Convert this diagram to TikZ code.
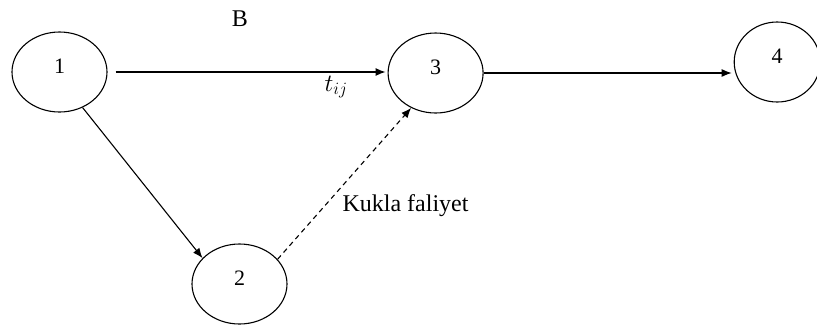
\documentclass[tikz,border=0pt]{standalone}
\usepackage{fontspec}
\setmainfont{Liberation Serif}
\usepackage{tikz}
\usetikzlibrary{positioning}
\usetikzlibrary{arrows.meta}
\usetikzlibrary{shapes.geometric}

\begin{document}
\begin{tikzpicture}[x=1pt, y=1pt, line width=1.1pt,
    event/.style={draw, ellipse, minimum width=95pt, minimum height=80pt, inner sep=0pt},
    num/.style={yshift=6pt, font=\fontsize{22}{26}\selectfont},
    act/.style={-{Latex[length=10pt,width=8pt]}},
    txt/.style={font=\fontsize{24}{28}\selectfont, inner sep=0pt}]

    \useasboundingbox (0,0) rectangle (817,-325);

    % events
    \node [event, label={[num]center:1}] (n1) at (59.5,-72) {};
    \node [event, right=280pt of n1, yshift=-1pt, label={[num]center:3}] (n3) {};
    \node [event, minimum width=86pt, right=250pt of n3, yshift=11pt, label={[num]center:4}] (n4) {};
    \node [event, label={[num]center:2}] (n2) at (239.5,-284) {};

    % activities
    \draw [act, shorten >=2pt] ([xshift=8pt]n1.east) -- (n1.east -| n3.west);
    \draw [act, shorten >=2pt] (n3.east) -- (n3.east -| n4.west);
    \draw [act] (n1.-57) -- (n2.145);
    \draw [act, dash pattern=on 5pt off 4pt] (n2.33) -- (n3.235);

    % texts
    \node [txt, anchor=base] (b) at (240,-26) {B};
    \node [txt, anchor=base west] (tij) at (324,-91) {$t_{ij}$};
    \node [txt, anchor=base west] (kukla) at (342,-211) {Kukla faliyet};

\end{tikzpicture}
\end{document}
